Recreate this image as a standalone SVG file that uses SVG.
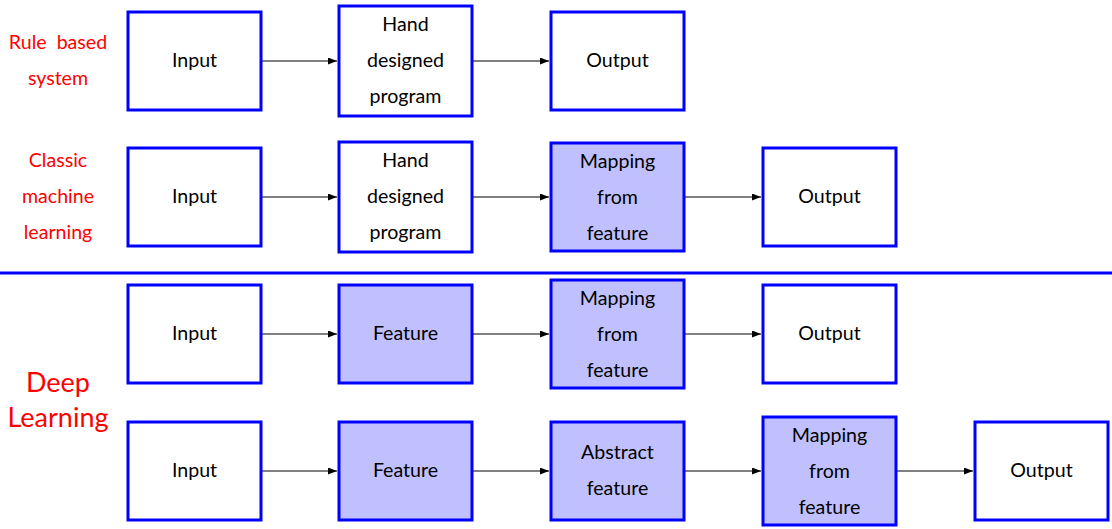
<svg xmlns="http://www.w3.org/2000/svg" width="1112" height="529" viewBox="0 0 1112 529">
<defs>
<style>
.box{fill:#ffffff;stroke:#0000ff;stroke-width:3}
.fbox{fill:#c0c0ff;stroke:#0000ff;stroke-width:3}
.t{font-family:Lato,"Liberation Sans",sans-serif;font-size:19.6px;fill:#000;text-anchor:middle}
.r{font-family:Lato,"Liberation Sans",sans-serif;font-size:19.6px;fill:#ff0000;text-anchor:middle}
.rb{font-family:Lato,"Liberation Sans",sans-serif;font-size:27px;fill:#ff0000;text-anchor:middle}
.c{stroke:#000;stroke-width:1.2;fill:none;marker-end:url(#ah)}
</style>
<marker id="ah" viewBox="0 0 10 10" refX="10" refY="5" markerWidth="9" markerHeight="7" markerUnits="userSpaceOnUse" orient="auto" preserveAspectRatio="none">
<path d="M0,0 L10,5 L0,10 z" fill="#000"/>
</marker>
</defs>
<rect width="1112" height="529" fill="#fff"/>
<g id="labels">
<text class="r" x="58" y="49" xml:space="preserve">Rule  based</text>
<text class="r" x="58" y="85">system</text>
<text class="r" x="58" y="167">Classic</text>
<text class="r" x="58" y="203">machine</text>
<text class="r" x="58" y="239">learning</text>
<text class="rb" x="58" y="392">Deep</text>
<text class="rb" x="58" y="427">Learning</text>
</g>
<line id="divider" x1="0" y1="273" x2="1112" y2="273" stroke="#0000ff" stroke-width="3"/>
<g id="connectors">
<line class="c" x1="262" y1="61" x2="337" y2="61"/>
<line class="c" x1="473" y1="61" x2="549" y2="61"/>
<line class="c" x1="262" y1="197" x2="337" y2="197"/>
<line class="c" x1="473" y1="197" x2="549" y2="197"/>
<line class="c" x1="685" y1="197" x2="761" y2="197"/>
<line class="c" x1="262" y1="334" x2="337" y2="334"/>
<line class="c" x1="473" y1="334" x2="549" y2="334"/>
<line class="c" x1="685" y1="334" x2="761" y2="334"/>
<line class="c" x1="262" y1="471" x2="337" y2="471"/>
<line class="c" x1="473" y1="471" x2="549" y2="471"/>
<line class="c" x1="685" y1="471" x2="761" y2="471"/>
<line class="c" x1="897" y1="471" x2="973" y2="471"/>
</g>
<g id="r1-input"><rect class="box" x="128" y="12" width="133" height="98"/><text class="t" x="194.5" y="66.5">Input</text></g>
<g id="r1-hand"><rect class="box" x="339" y="6" width="133" height="110"/><text class="t" x="405.5" y="30.5">Hand</text><text class="t" x="405.5" y="66.5">designed</text><text class="t" x="405.5" y="102.5">program</text></g>
<g id="r1-output"><rect class="box" x="551" y="12" width="133" height="98"/><text class="t" x="617.5" y="66.5">Output</text></g>
<g id="r2-input"><rect class="box" x="128" y="148" width="133" height="98"/><text class="t" x="194.5" y="202.5">Input</text></g>
<g id="r2-hand"><rect class="box" x="339" y="142" width="133" height="110"/><text class="t" x="405.5" y="166.5">Hand</text><text class="t" x="405.5" y="202.5">designed</text><text class="t" x="405.5" y="238.5">program</text></g>
<g id="r2-mapping"><rect class="fbox" x="551" y="143" width="133" height="108"/><text class="t" x="617.5" y="167.5">Mapping</text><text class="t" x="617.5" y="203.5">from</text><text class="t" x="617.5" y="239.5">feature</text></g>
<g id="r2-output"><rect class="box" x="763" y="148" width="133" height="98"/><text class="t" x="829.5" y="202.5">Output</text></g>
<g id="r3-input"><rect class="box" x="128" y="285" width="133" height="98"/><text class="t" x="194.5" y="339.5">Input</text></g>
<g id="r3-feature"><rect class="fbox" x="339" y="285" width="133" height="98"/><text class="t" x="405.5" y="339.5">Feature</text></g>
<g id="r3-mapping"><rect class="fbox" x="551" y="280" width="133" height="108"/><text class="t" x="617.5" y="304.5">Mapping</text><text class="t" x="617.5" y="340.5">from</text><text class="t" x="617.5" y="376.5">feature</text></g>
<g id="r3-output"><rect class="box" x="763" y="285" width="133" height="98"/><text class="t" x="829.5" y="339.5">Output</text></g>
<g id="r4-input"><rect class="box" x="128" y="422" width="133" height="98"/><text class="t" x="194.5" y="476.5">Input</text></g>
<g id="r4-feature"><rect class="fbox" x="339" y="422" width="133" height="98"/><text class="t" x="405.5" y="476.5">Feature</text></g>
<g id="r4-abstract"><rect class="fbox" x="551" y="422" width="133" height="98"/><text class="t" x="617.5" y="458.5">Abstract</text><text class="t" x="617.5" y="494.5">feature</text></g>
<g id="r4-mapping"><rect class="fbox" x="763" y="417" width="133" height="108"/><text class="t" x="829.5" y="441.5">Mapping</text><text class="t" x="829.5" y="477.5">from</text><text class="t" x="829.5" y="513.5">feature</text></g>
<g id="r4-output"><rect class="box" x="975" y="422" width="133" height="98"/><text class="t" x="1041.5" y="476.5">Output</text></g>
</svg>
